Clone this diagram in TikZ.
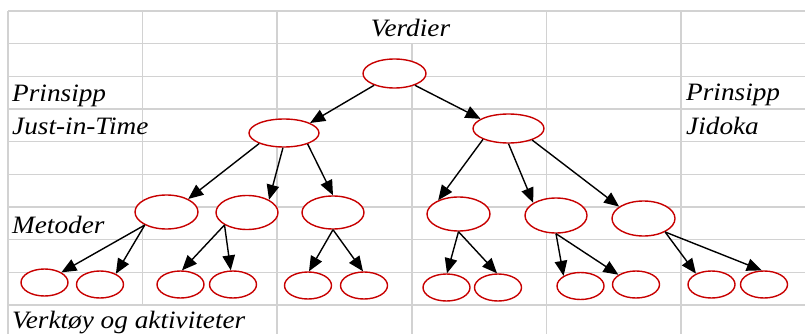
\documentclass[tikz,border=0pt]{standalone}
\usepackage{fontspec}
\setmainfont{Liberation Serif}
\newfontfamily\tnr[FakeStretch=1.09]{Liberation Serif}
\usetikzlibrary{shapes.geometric,arrows.meta}
\definecolor{gridgray}{RGB}{210,210,210}
\definecolor{ellred}{RGB}{200,0,0}
\begin{document}
\begin{tikzpicture}[x=1pt,y=-1pt,
  gridline/.style={draw=gridgray,line width=1.6pt},
  lbl/.style={inner sep=0pt,anchor=base west,font=\tnr\itshape\fontsize{25}{30}\selectfont},
  ell/.style={ellipse,draw=ellred,fill=white,line width=1.4pt,inner sep=0pt},
  big/.style={ell,minimum width=63pt,minimum height=34pt},
  mid/.style={ell,minimum width=70pt,minimum height=28pt},
  small/.style={ell,minimum width=47pt,minimum height=27pt},
  arr/.style={draw=black,line width=1.4pt,-{Triangle[length=15pt,width=12.5pt]}}]
\useasboundingbox (0,0) rectangle (805,334);
\fill[white] (0,0) rectangle (805,334);
% grid
\foreach \y in {11,43.67,76.33,109,141.67,174.33,207,239.67,272.33,305}
  \draw[gridline] (8,\y) -- (805,\y);
\draw[gridline] (8,11) -- (8,334);
\draw[gridline] (142.6,11) -- (142.6,305);
\draw[gridline] (277.2,11) -- (277.2,334);
\draw[gridline] (411.8,43.67) -- (411.8,334);
\draw[gridline] (546.4,11) -- (546.4,334);
\draw[gridline] (681,11) -- (681,334);
% labels
\node[lbl,anchor=base] (verdier) at (410.5,36.7) {Verdier};
\node[lbl] (prinL) at (12,101.5) {Prinsipp};
\node[lbl] (jit) at (12,134.3) {Just-in-Time};
\node[lbl] (prinR) at (686,101) {Prinsipp};
\node[lbl] (jidoka) at (686,134.5) {Jidoka};
\node[lbl] (metoder) at (12,233) {Metoder};
\node[lbl] (verktoy) at (12,328) {Verktøy og aktiviteter};
% ellipses
\node[ell,minimum width=63pt,minimum height=29pt] (T) at (394.5,73.5) {};
\node[mid] (L) at (284,133) {};
\node[mid,minimum width=71pt,minimum height=29pt] (R) at (508.5,128.5) {};
\node[big] (A) at (166.5,212) {};
\node[big,minimum width=62pt] (B) at (247,212.5) {};
\node[big,minimum width=62pt,minimum height=33pt] (C) at (333,212.5) {};
\node[big] (D) at (458.5,214) {};
\node[big,minimum width=62pt,minimum height=35pt] (E) at (556,215.5) {};
\node[big,minimum height=35pt] (F) at (643.5,218.5) {};
\node[small] (n1) at (44.5,282.5) {};
\node[small] (n2) at (100,284.5) {};
\node[small] (n3) at (180.5,284.5) {};
\node[small] (n4) at (233,284.5) {};
\node[small] (n5) at (308,285.5) {};
\node[small] (n6) at (364,285.5) {};
\node[small] (n7) at (446.5,287.5) {};
\node[small] (n8) at (498,287.5) {};
\node[small] (n9) at (580.5,286) {};
\node[small] (n10) at (636,284.5) {};
\node[small] (n11) at (711.5,284.5) {};
\node[small] (n12) at (764,284.5) {};
% arrows
\draw[arr] (T.210) -- (L.21);
\draw[arr] (T.330) -- (R.161);
\draw[arr] (L.203) -- (A.31);
\draw[arr] (L.266) -- (B.30);
\draw[arr] (L.335) -- (C.90);
\draw[arr] (R.203) -- (D.146);
\draw[arr] (R.270) -- (E.151);
\draw[arr] (R.334) -- (F.154);
\draw[arr] (A.211) -- (n1.31);
\draw[arr] (A.211) -- (n2.34);
\draw[arr] (B.209) -- (n3.84);
\draw[arr] (B.209) -- (n4.99);
\draw[arr] (C.270) -- (n5.86);
\draw[arr] (C.270) -- (n6.94);
\draw[arr] (D.270) -- (n7.88);
\draw[arr] (D.270) -- (n8.94);
\draw[arr] (E.270) -- (n9.149);
\draw[arr] (E.270) -- (n10.151);
\draw[arr] (F.328) -- (n11.145);
\draw[arr] (F.328) -- (n12.99);
\end{tikzpicture}
\end{document}
